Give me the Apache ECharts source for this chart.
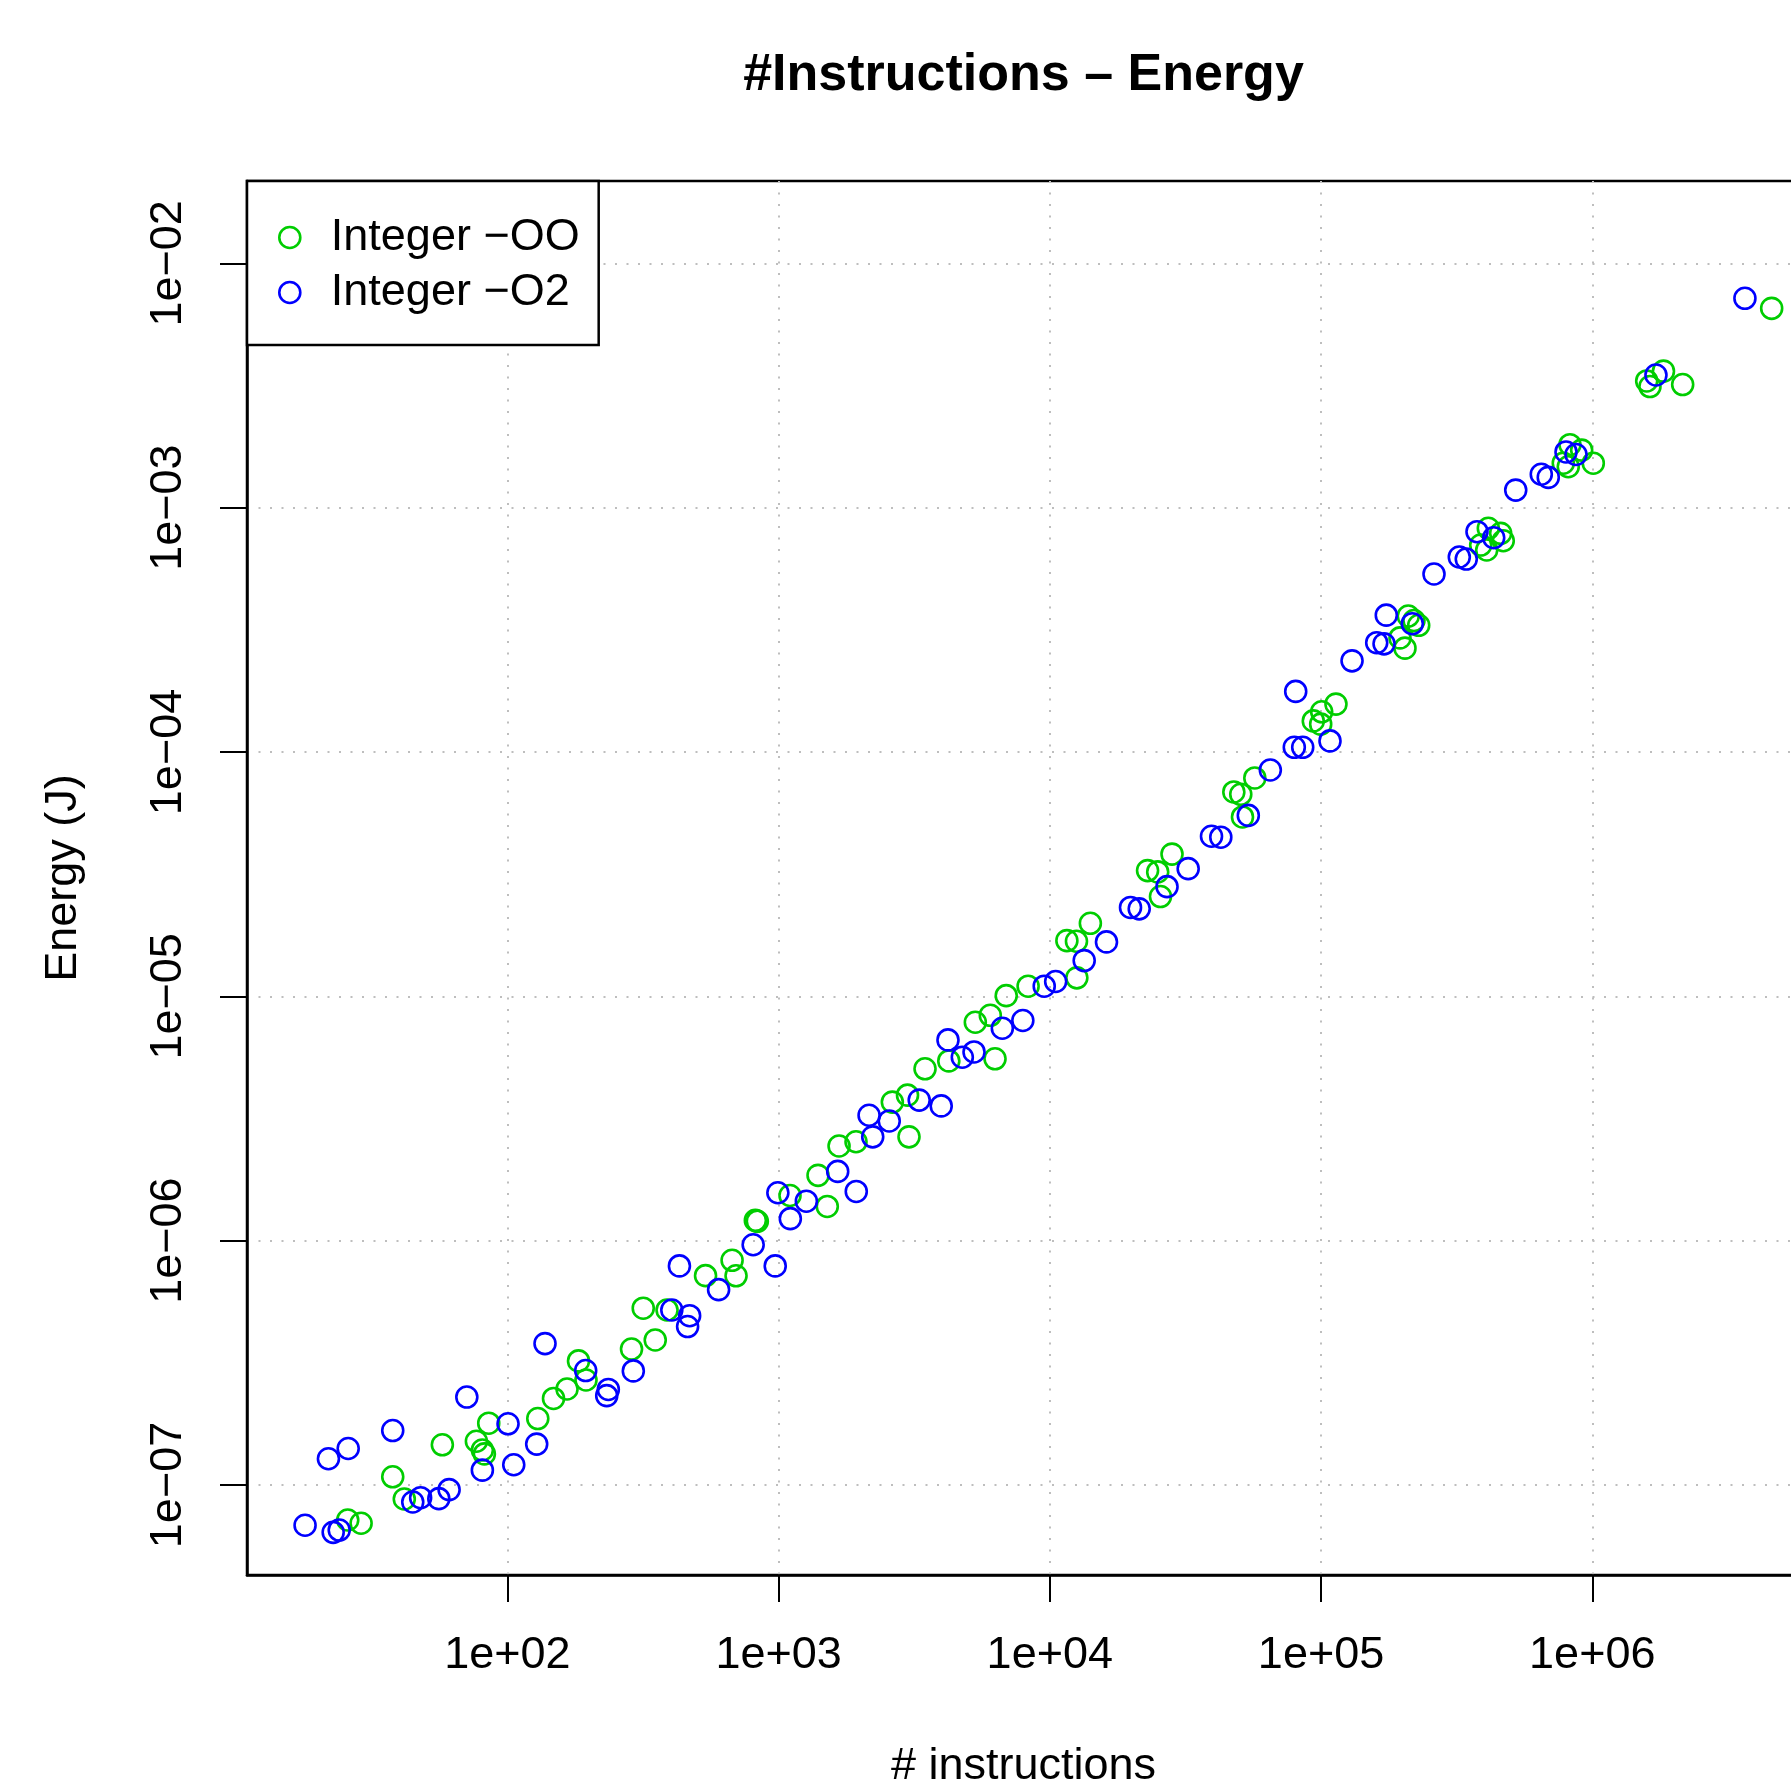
<!DOCTYPE html>
<html>
<head>
<meta charset="utf-8">
<script src="https://cdn.jsdelivr.net/npm/echarts@6/dist/echarts.min.js"></script>
<style>
html, body { margin: 0; padding: 0; background: #fff; }
#main { width: 1791px; height: 1792px; }
</style>
</head>
<body>
<div id="main"></div>
<script>
// series: number of instructions / energy in J
const instrOO = [25.8, 28.9, 37.8, 41.7, 57.6, 76.9, 80.9, 82.3, 85.4, 129.5,
    148, 166, 183, 195, 287, 351, 317, 388, 538, 674,
    697, 821, 835, 1102, 1398, 1512, 1671, 1930, 2627, 2988,
    3026, 3467, 4242, 6281, 5314, 6034, 6908, 8318, 12580, 11560,
    12540, 14110, 22930, 24990, 25590, 28220, 47690, 50590, 51330, 56990,
    93630, 99700, 100550, 113500, 195500, 203900, 209700, 220100, 229100, 387800,
    408100, 413700, 459500, 469700, 781800, 815500, 827400, 913800, 1008500, 1587000,
    1632000, 1830000, 2154000, 4585000];
const energyOO = [7.19e-8, 6.97e-8, 1.08e-7, 8.76e-8, 1.46e-7, 1.51e-7, 1.39e-7, 1.34e-7, 1.79e-7, 1.87e-7,
    2.26e-7, 2.47e-7, 3.22e-7, 2.69e-7, 3.60e-7, 3.92e-7, 5.29e-7, 5.20e-7, 7.19e-7, 8.31e-7,
    7.18e-7, 1.21e-6, 1.20e-6, 1.53e-6, 1.85e-6, 1.38e-6, 2.44e-6, 2.54e-6, 3.69e-6, 3.94e-6,
    2.66e-6, 5.05e-6, 5.44e-6, 5.55e-6, 7.83e-6, 8.36e-6, 1.006e-5, 1.10e-5, 1.19e-5, 1.69e-5,
    1.68e-5, 1.99e-5, 3.27e-5, 3.23e-5, 2.56e-5, 3.82e-5, 6.86e-5, 6.71e-5, 5.42e-5, 7.83e-5,
    1.34e-4, 1.30e-4, 1.46e-4, 1.57e-4, 2.93e-4, 2.66e-4, 3.60e-4, 3.45e-4, 3.30e-4, 7.03e-4,
    6.71e-4, 8.23e-4, 7.85e-4, 7.32e-4, 1.52e-3, 1.47e-3, 1.81e-3, 1.72e-3, 1.52e-3, 3.30e-3,
    3.13e-3, 3.62e-3, 3.19e-3, 6.54e-3];

const instrO2 = [17.96, 22.8, 24.0, 21.9, 25.9, 37.8, 44.8, 47.9, 55.9, 61.0,
    70.9, 80.9, 100.6, 105.6, 128.3, 137.7, 194.5, 235.7, 232.5, 291.4,
    404, 470, 462, 431, 601, 806, 972, 994, 1105, 1266,
    1652, 1934, 2156, 2224, 2559, 3300, 3978, 4213, 4758, 5255,
    6683, 7953, 9537, 10510, 13390, 16180, 19840, 21360, 27050, 32370,
    39460, 42700, 53930, 65020, 79690, 85590, 107900, 80650, 130100, 160400,
    170700, 174000, 217000, 260900, 323400, 343100, 375800, 433100, 522100, 648600,
    688200, 800100, 871000, 1717000, 3654000];
const energyO2 = [6.84e-8, 6.40e-8, 6.54e-8, 1.28e-7, 1.41e-7, 1.67e-7, 8.52e-8, 8.87e-8, 8.79e-8, 9.57e-8,
    2.29e-7, 1.15e-7, 1.78e-7, 1.21e-7, 1.47e-7, 3.79e-7, 2.94e-7, 2.46e-7, 2.32e-7, 2.93e-7,
    5.20e-7, 4.93e-7, 4.45e-7, 7.88e-7, 6.30e-7, 9.62e-7, 7.88e-7, 1.57e-6, 1.23e-6, 1.45e-6,
    1.92e-6, 1.59e-6, 3.26e-6, 2.66e-6, 3.09e-6, 3.76e-6, 3.56e-6, 6.63e-6, 5.63e-6, 5.92e-6,
    7.40e-6, 7.96e-6, 1.10e-5, 1.15e-5, 1.40e-5, 1.67e-5, 2.31e-5, 2.28e-5, 2.81e-5, 3.33e-5,
    4.52e-5, 4.48e-5, 5.50e-5, 8.44e-5, 1.045e-4, 1.045e-4, 1.11e-4, 1.77e-4, 2.36e-4, 2.80e-4,
    2.77e-4, 3.63e-4, 3.35e-4, 5.35e-4, 6.28e-4, 6.16e-4, 7.97e-4, 7.53e-4, 1.18e-3, 1.37e-3,
    1.33e-3, 1.69e-3, 1.65e-3, 3.49e-3, 7.19e-3];

const seriesNames = ['Integer \u2212OO', 'Integer \u2212O2'];
const seriesColors = ['#00CD00', '#0000FF'];

// tick positions (decades) and axis extents
const xTicks = [1e2, 1e3, 1e4, 1e5, 1e6];
const yTicks = [1e-7, 1e-6, 1e-5, 1e-4, 1e-3, 1e-2];
const xRange = [10.97, 5.832e6];
const yRange = [4.281e-8, 0.02172];

const font = '"Liberation Sans", Arial, Helvetica, sans-serif';

function pairs(xs, ys) {
    let out = [];
    for (let i = 0; i < xs.length; i++) {
        out.push([xs[i], ys[i]]);
    }
    return out;
}

// R style labels: 1e+02, 1e-07
function expLabel(v) {
    let e = Math.round(Math.log10(v));
    let a = Math.abs(e);
    return '1e' + (e < 0 ? '\u2212' : '+') + (a < 10 ? '0' + a : a);
}

let chart = echarts.init(document.getElementById('main'), null, { renderer: 'canvas' });

let axisCommon = {
    type: 'log',
    logBase: 10,
    nameLocation: 'middle',
    nameTextStyle: { fontFamily: font, fontSize: 45, color: '#000' },
    axisLine: { show: true, lineStyle: { color: '#000', width: 2.5 } },
    axisTick: { show: true, inside: false, length: 27, lineStyle: { color: '#000', width: 2 } },
    axisLabel: {
        fontFamily: font, fontSize: 45, color: '#000',
        showMinLabel: true, showMaxLabel: true,
        hideOverlap: false,
        formatter: expLabel
    },
    splitLine: {
        show: true, showMinLine: true, showMaxLine: true,
        lineStyle: { color: '#BEBEBE', width: 2, type: [2, 9.5] }
    },
    minorTick: { show: false },
    minorSplitLine: { show: false }
};

let option = {
    animation: false,
    backgroundColor: '#fff',
    textStyle: { fontFamily: font },
    graphic: [{
        type: 'text',
        x: 1023.5,
        y: 50,
        style: {
            text: '#Instructions \u2013 Energy',
            font: 'bold 52px ' + font,
            fill: '#000',
            align: 'center',
            verticalAlign: 'top'
        }
    }],
    grid: {
        left: 247, top: 181, width: 1553, height: 1394,
        show: true, borderColor: '#000', borderWidth: 2.5,
        backgroundColor: 'transparent',
        containLabel: false, outerBoundsMode: 'none'
    },
    legend: {
        orient: 'vertical',
        left: 247, top: 181,
        padding: [34, 19, 30, 31],
        itemWidth: 72, itemHeight: 21, itemGap: 10,
        borderColor: '#000', borderWidth: 2.5, borderRadius: 0,
        backgroundColor: '#fff',
        textStyle: { fontFamily: font, fontSize: 45, lineHeight: 45, color: '#000' },
        data: seriesNames.map(function (n, i) {
            return {
                name: n, icon: 'circle',
                itemStyle: { color: 'rgba(0,0,0,0)', borderColor: seriesColors[i], borderWidth: 2.6 }
            };
        })
    },
    xAxis: Object.assign({}, axisCommon, {
        name: '# instructions',
        nameGap: 169,
        min: xRange[0], max: xRange[1],
        axisTick: Object.assign({}, axisCommon.axisTick, { customValues: xTicks }),
        axisLabel: Object.assign({}, axisCommon.axisLabel, { customValues: xTicks, margin: 58 })
    }),
    yAxis: Object.assign({}, axisCommon, {
        name: 'Energy (J)',
        nameGap: 161,
        nameRotate: 90,
        min: yRange[0], max: yRange[1],
        axisTick: Object.assign({}, axisCommon.axisTick, { customValues: yTicks }),
        axisLabel: Object.assign({}, axisCommon.axisLabel, { customValues: yTicks, rotate: 90, margin: 56 })
    }),
    series: [
        {
            name: seriesNames[0],
            type: 'scatter',
            symbol: 'circle',
            symbolSize: 21,
            itemStyle: { color: 'rgba(0,0,0,0)', borderColor: seriesColors[0], borderWidth: 2.6, opacity: 1 },
            data: pairs(instrOO, energyOO)
        },
        {
            name: seriesNames[1],
            type: 'scatter',
            symbol: 'circle',
            symbolSize: 21,
            itemStyle: { color: 'rgba(0,0,0,0)', borderColor: seriesColors[1], borderWidth: 2.6, opacity: 1 },
            data: pairs(instrO2, energyO2)
        }
    ]
};

chart.setOption(option);
</script>
</body>
</html>
